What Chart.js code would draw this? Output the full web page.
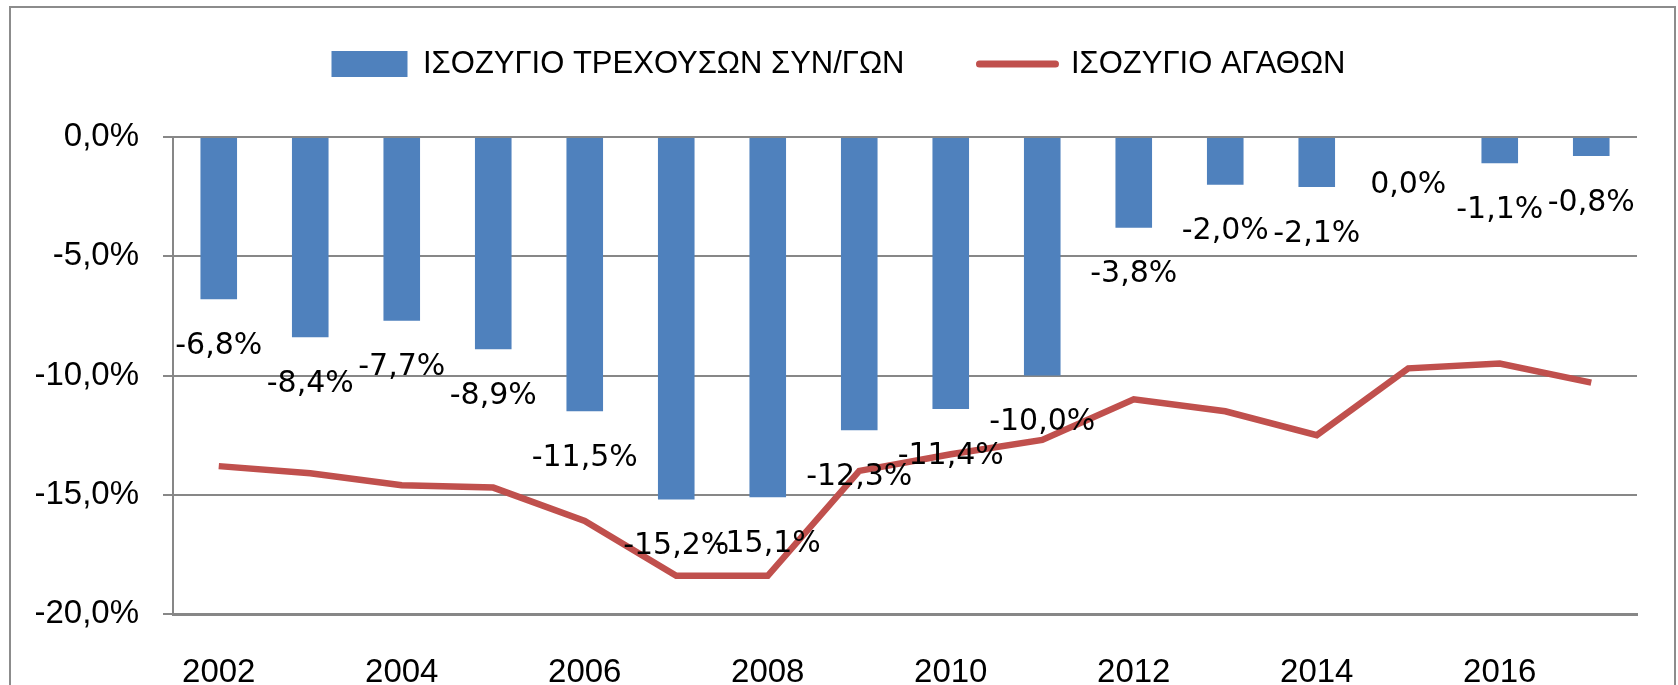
<!DOCTYPE html>
<html lang="el">
<head>
<meta charset="utf-8">
<title>Ισοζύγιο</title>
<script src="https://cdn.jsdelivr.net/npm/chart.js"></script>
<style>
  html, body { margin: 0; padding: 0; background: #fff; }
  canvas { display: block; }
</style>
</head>
<body>
<canvas id="balanceChart" width="1678" height="685"></canvas>

<script>
    // data (% of GDP)
    const years = ['2002', '2003', '2004', '2005', '2006', '2007', '2008', '2009',
                   '2010', '2011', '2012', '2013', '2014', '2015', '2016', '2017'];
    const currentAccount = [-6.8, -8.4, -7.7, -8.9, -11.5, -15.2, -15.1, -12.3,
                            -11.4, -10.0, -3.8, -2.0, -2.1, -0.04, -1.1, -0.8];
    const goodsBalance = [-13.8, -14.1, -14.6, -14.7, -16.1, -18.4, -18.4, -14.0,
                          -13.3, -12.7, -11.0, -11.5, -12.5, -9.7, -9.5, -10.3];
    const yTicks = [0, -5, -10, -15, -20];

    const seriesNames = ['ΙΣΟΖΥΓΙΟ ΤΡΕΧΟΥΣΩΝ ΣΥΝ/ΓΩΝ', 'ΙΣΟΖΥΓΙΟ ΑΓΑΘΩΝ'];

    const blue = '#4F81BD';
    const red = '#C0504D';
    const gray = '#878787';

    function pct(v) {
        if (Math.abs(v) < 0.05) return '0,0%';
        return v.toFixed(1).replace('.', ',') + '%';
    }

    // legend text in the original is condensed; use the narrow face if it is there
    function hasFont(name) {
        const c = document.createElement('canvas').getContext('2d');
        const s = 'ΙΣΟΖΥΓΙΟ ΑΓΑΘΩΝ 2002';
        c.font = '40px monospace';
        const a = c.measureText(s).width;
        c.font = '40px "' + name + '", monospace';
        return c.measureText(s).width !== a;
    }
    const narrow = hasFont('Liberation Sans Narrow');
    const legendFont = narrow
        ? { family: '"Liberation Sans Narrow"', size: 37 }
        : { size: 31 };
    const legendPad = 75;
    const plotTop = 137;
    const legendMid = 64;

    // white background and the outer frame
    const frame = {
        id: 'frame',
        beforeDraw(chart) {
            const ctx = chart.ctx;
            ctx.save();
            ctx.fillStyle = '#fff';
            ctx.fillRect(0, 0, chart.width, chart.height);
            ctx.strokeStyle = '#8c8c8c';
            ctx.lineWidth = 2;
            ctx.strokeRect(10, 7, chart.width - 13, chart.height + 20);
            ctx.restore();
        }
    };

    // lift the legend row up into the empty band above the plot
    const legendShift = {
        id: 'legendShift',
        afterLayout(chart) {
            const lg = chart.legend;
            const dy = legendMid - (lg.top + legendPad + legendFont.size / 2);
            lg.top += dy;
            lg.bottom += dy;
            lg.left += 20;
            lg.right += 20;
        }
    };

    // value labels under each bar
    const barLabels = {
        id: 'barLabels',
        afterDatasetsDraw(chart) {
            const ctx = chart.ctx;
            const meta = chart.getDatasetMeta(0);
            ctx.save();
            ctx.font = '30px "DejaVu Sans"';
            ctx.fillStyle = '#000';
            ctx.textAlign = 'center';
            ctx.textBaseline = 'middle';
            meta.data.forEach((bar, i) => {
                ctx.fillText(pct(currentAccount[i]), bar.x, bar.y + 47);
            });
            ctx.restore();
        }
    };

    Chart.defaults.font.family = '"Liberation Sans", Arial, sans-serif';
    Chart.defaults.color = '#000';

    const ctx = document.getElementById('balanceChart').getContext('2d');
    new Chart(ctx, {
        data: {
            labels: years,
            datasets: [{
                type: 'bar',
                label: seriesNames[0],
                data: currentAccount,
                backgroundColor: blue,
                borderWidth: 0,
                categoryPercentage: 1,
                barPercentage: 0.4,
                order: 2
            }, {
                type: 'line',
                label: seriesNames[1],
                data: goodsBalance,
                borderColor: red,
                backgroundColor: red,
                borderWidth: 6.5,
                pointRadius: 0,
                tension: 0,
                order: 1
            }]
        },
        options: {
            responsive: false,
            animation: false,
            layout: {
                padding: {
                    left: 0, right: 41, bottom: 0,
                    top: plotTop - (legendFont.size + legendPad + 10)
                }
            },
            plugins: {
                tooltip: { enabled: false },
                legend: {
                    position: 'top',
                    labels: {
                        font: legendFont,
                        color: '#000',
                        usePointStyle: true,
                        pointStyleWidth: 76,
                        boxHeight: 26,
                        padding: legendPad,
                        generateLabels(chart) {
                            const items = Chart.defaults.plugins.legend.labels.generateLabels(chart);
                            items.sort((a, b) => a.datasetIndex - b.datasetIndex);
                            items.forEach(it => {
                                if (it.datasetIndex === 0) {
                                    it.pointStyle = 'rect';
                                    it.lineWidth = 0;
                                    it.fillStyle = blue;
                                } else {
                                    it.pointStyle = 'line';
                                    it.lineWidth = 7;
                                    it.strokeStyle = red;
                                    it.lineCap = 'round';
                                }
                            });
                            return items;
                        }
                    }
                }
            },
            scales: {
                x: {
                    grid: { display: false },
                    border: { display: true, color: gray, width: 3 },
                    ticks: {
                        font: { size: 33 },
                        color: '#000',
                        padding: 31,
                        autoSkip: false,
                        maxRotation: 0,
                        callback: function (value, index) {
                            return index % 2 === 0 ? years[index] : '';
                        }
                    },
                    afterFit(scale) { scale.height = 71; }
                },
                y: {
                    min: yTicks[yTicks.length - 1],
                    max: yTicks[0],
                    grid: { color: gray, lineWidth: 2, tickLength: 10, drawTicks: true },
                    border: { display: true, color: gray, width: 2 },
                    ticks: {
                        stepSize: 5,
                        font: { size: 33 },
                        color: '#000',
                        padding: 24,
                        callback: v => pct(v)
                    },
                    afterFit(scale) { scale.width = 173; }
                }
            }
        },
        plugins: [frame, legendShift, barLabels]
    });
</script>
</body>
</html>
